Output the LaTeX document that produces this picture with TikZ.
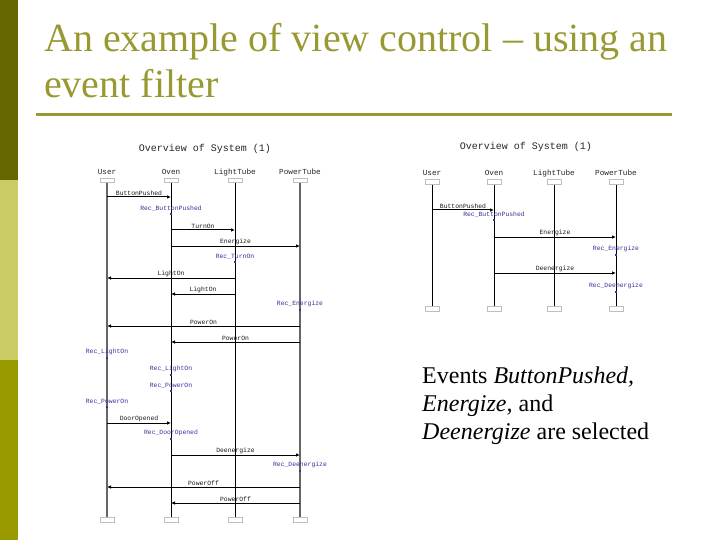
\documentclass[tikz,border=0pt]{standalone}
\usepackage{fontspec}
\setmainfont{Liberation Serif}
\setmonofont{Liberation Mono}
\usetikzlibrary{arrows.meta}
\definecolor{bardark}{HTML}{666600}
\definecolor{barlight}{HTML}{CCCC66}
\definecolor{barmid}{HTML}{999900}
\definecolor{titleolive}{HTML}{999933}
\definecolor{recblue}{HTML}{333399}
\begin{document}
\begin{tikzpicture}[x=1pt,y=-1pt,
  slidetitle/.style={font=\fontsize{40}{48}\selectfont,text=titleolive,inner sep=0pt,anchor=base west},
  bodytext/.style={font=\fontsize{24}{28}\selectfont,inner sep=0pt,anchor=base west},
  diagtitle/.style={font=\ttfamily\fontsize{10}{12}\selectfont,text=black!85,inner sep=0pt},
  head/.style={font=\ttfamily\fontsize{7.7}{9}\selectfont,text=black!85,inner sep=0pt,anchor=base},
  lbox/.style={draw=black!25,line width=.6pt,minimum width=14pt,minimum height=4.5pt,inner sep=0pt},
  graylife/.style={draw=black!60,line width=1.6pt},
  thicklife/.style={draw=black!60,line width=2.4pt},
  blacklife/.style={draw=black,line width=1pt},
  msg/.style={-{Latex[length=4pt,width=3.5pt]},line width=1pt},
  msglabel/.style={font=\ttfamily\fontsize{6.4}{7}\selectfont,text=black!90,inner sep=1pt,above},
  rec/.style={font=\ttfamily\fontsize{6.4}{7}\selectfont,text=recblue,inner sep=1.5pt,above}]
  \useasboundingbox (0,0) rectangle (720,540);
  \fill[bardark] (0,0) rectangle (18,180);
  \fill[barlight] (0,180) rectangle (18,360);
  \fill[barmid] (0,360) rectangle (18,540);
  \node[slidetitle] (title1) at (44,51.5) {An example of view control – using an};
  \node[slidetitle] (title2) at (44,98) {event filter};
  \draw[titleolive,line width=3pt] (36,115) -- (672,115);

  % left chart
  \node[diagtitle] (ltitle) at (205,149) {Overview of System (1)};
  \foreach \n/\x/\t/\s in {lu/107/User/graylife, lo/171/Oven/blacklife, ll/235/LightTube/blacklife, lp/300/PowerTube/thicklife}{
    \node[head] (\n) at (\x,175) {\t};
    \node[lbox] (\n-t) at (\x,180.5) {};
    \node[lbox] (\n-b) at (\x,520) {};
    \draw[\s] (\n-t.south) -- (\n-b.north);
  }
  \foreach \a/\b/\y/\t [count=\i] in {lu/lo/197/ButtonPushed, lo/ll/230/TurnOn, lo/lp/246/Energize,
      ll/lu/278/LightOn, ll/lo/294/LightOn, lp/lu/326/PowerOn, lp/lo/342/PowerOn,
      lu/lo/423/DoorOpened, lo/lp/455/Deenergize, lp/lu/487/PowerOff, lp/lo/503/PowerOff}
    \draw[msg] (\a-t.center |- 0,\y) -- (\b-t.center |- 0,\y) node[msglabel,midway] (lm\i) {\t};
  \foreach \n/\y/\t [count=\i] in {lo/214/Rec\_ButtonPushed, ll/262/Rec\_TurnOn, lp/310/Rec\_Energize,
      lu/358/Rec\_LightOn, lo/375/Rec\_LightOn, lo/391/Rec\_PowerOn, lu/407/Rec\_PowerOn,
      lo/439/Rec\_DoorOpened, lp/471/Rec\_Deenergize}
    \fill[recblue] (\n-t.center |- 0,\y) ++(-1.3,-1.3) rectangle ++(2.6,2.6)
      node[rec] (lr\i) at (\n-t.center |- 0,\y-1) {\t};

  % right chart
  \node[diagtitle] (rtitle) at (526,147) {Overview of System (1)};
  \foreach \n/\x/\t in {ru/432/User, ro/494/Oven, rl/554/LightTube, rp/616/PowerTube}{
    \node[head] (\n) at (\x,176) {\t};
    \node[lbox] (\n-t) at (\x,182) {};
    \node[lbox] (\n-b) at (\x,309) {};
    \draw[blacklife] (\n-t.south) -- (\n-b.north);
  }
  \foreach \a/\b/\y/\t [count=\i] in {ru/ro/210/ButtonPushed, ro/rp/237/Energize, ro/rp/273/Deenergize}
    \draw[msg] (\a-t.center |- 0,\y) -- (\b-t.center |- 0,\y) node[msglabel,midway] (rm\i) {\t};
  \foreach \n/\y/\t [count=\i] in {ro/220/Rec\_ButtonPushed, rp/255/Rec\_Energize, rp/292/Rec\_Deenergize}
    \fill[recblue] (\n-t.center |- 0,\y) ++(-1.3,-1.3) rectangle ++(2.6,2.6)
      node[rec] (rr\i) at (\n-t.center |- 0,\y-1) {\t};

  \node[bodytext] (ev1) at (422,383) {Events \textit{ButtonPushed,}};
  \node[bodytext] (ev2) at (422,411) {\textit{Energize,} and};
  \node[bodytext] (ev3) at (422,439) {\textit{Deenergize} are selected};
\end{tikzpicture}
\end{document}
